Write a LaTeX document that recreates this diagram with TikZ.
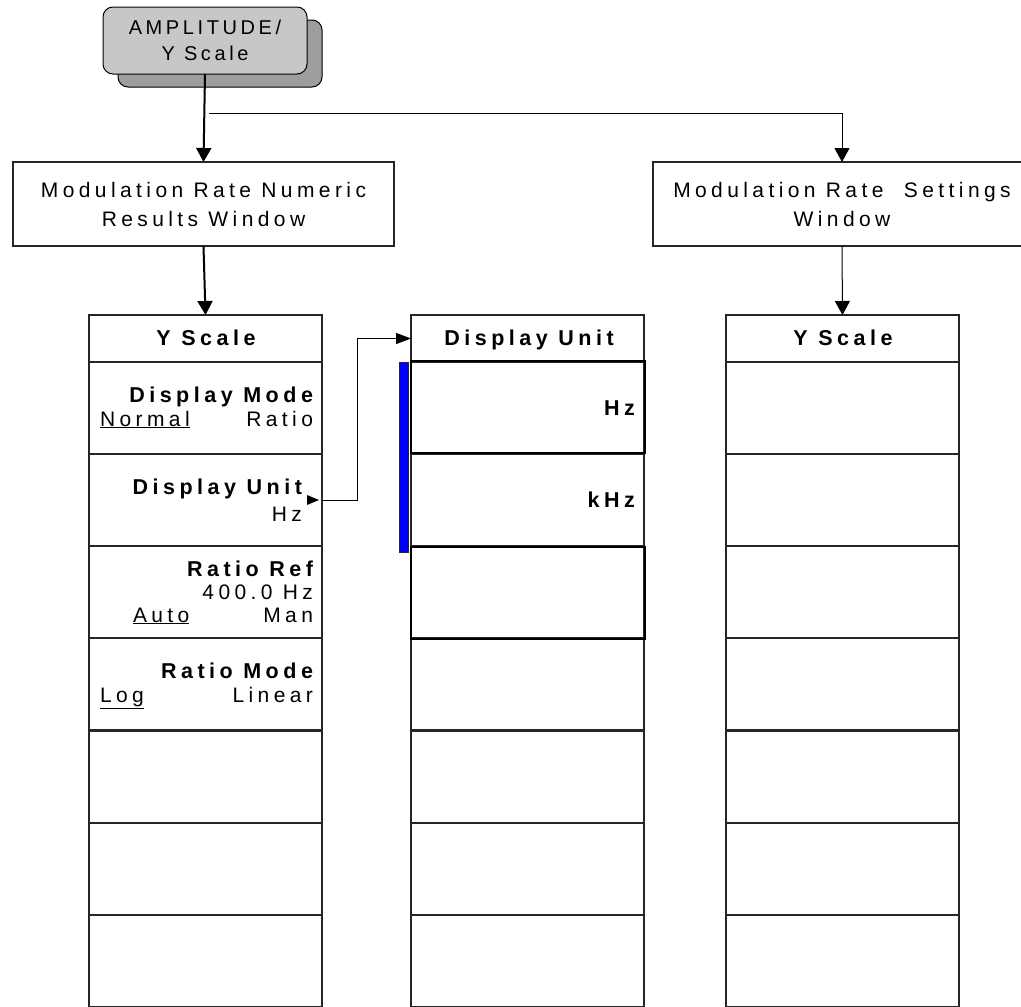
\documentclass[tikz,border=0pt]{standalone}
\usepackage{fontspec}
\newfontfamily\lsfont[LetterSpace=21]{Liberation Sans}
\newfontfamily\kfont[LetterSpace=18]{Liberation Sans}
\usetikzlibrary{arrows.meta,calc}
\begin{document}
\begin{tikzpicture}[x=1pt,y=-1pt,
  every node/.style={inner sep=0pt,outer sep=0pt},
  txt/.style={font=\lsfont\fontsize{21}{29}\selectfont},
  btxt/.style={font=\lsfont\fontsize{21.5}{29}\selectfont\bfseries},
  winbox/.style={draw=black!85,line width=1.1pt,anchor=north west,minimum height=84pt,align=center,txt},
  hdrbox/.style={draw=black!85,line width=1.1pt,anchor=north west,minimum width=233pt,minimum height=47pt},
  softkey/.style={draw=black!85,line width=1.1pt,anchor=north west,minimum width=233pt,minimum height=92pt},
  selkey/.style={draw=black,line width=2.4pt,anchor=north west,minimum width=234pt,minimum height=92pt},
  bigarrow/.style={line width=2pt,-{Triangle[length=14pt,width=15pt]}},
  thinarrow/.style={line width=1pt,-{Triangle[length=14pt,width=15pt]}},
  smallarrow/.style={line width=1pt,-{Triangle[length=15pt,width=11pt]}}
]
\useasboundingbox (0,0) rectangle (1021,1007);
\clip (0,0) rectangle (1021,1007);

% front-panel key with shadow
\draw[black,line width=1pt,fill=black!38,rounded corners=10pt] (118,20) rectangle (322,87);
\node[draw=black,line width=1pt,fill=black!22,rounded corners=10pt,anchor=north west,
      minimum width=204pt,minimum height=67pt,align=center,
      font=\kfont\fontsize{20}{26}\selectfont] (key) at (103,7) {AMPLITUDE/\\Y Scale};

% windows
\node[winbox,minimum width=381pt] (numeric) at (13,162) {Modulation Rate Numeric\\Results Window};
\node[winbox,minimum width=378pt] (settings) at (653,162) {Modulation Rate\ \ Settings\\Window};

% menu columns
\node[hdrbox] (L0) at (89,315) {};
\node[hdrbox] (M0) at (411,315) {};
\node[hdrbox] (R0) at (726,315) {};
\foreach \i/\y in {1/362,2/454,3/546,4/638,5/731,6/823,7/915}{
  \node[softkey] (L\i) at (89,\y) {};
  \node[softkey] (M\i) at (411,\y) {};
  \node[softkey] (R\i) at (726,\y) {};
}
\node[selkey] (M1s) at (411,361) {};
\node[selkey] (M3s) at (411,547) {};
\draw[black!85,line width=1pt,fill=blue] (399,362) rectangle (408,552);

% headers
\node[btxt,anchor=base] (L0t) at (206,345) {Y Scale};
\node[btxt,anchor=base] (M0t) at (529,345) {Display Unit};
\node[btxt,anchor=base] (R0t) at (843,345) {Y Scale};

% left column labels
\node[btxt,anchor=base east] (dm) at (313,402) {Display Mode};
\node[txt,anchor=base west] (dmn) at (100,426) {\underline{Normal}};
\node[txt,anchor=base east] (dmr) at (313,426) {Ratio};
\node[btxt,anchor=base east] (du) at (302,494) {Display Unit};
\node[txt,anchor=base east] (duh) at (302,521) {Hz};
\fill (307,495) -- (319,500) -- (307,505) -- cycle;
\node[btxt,anchor=base east] (rr) at (313,576) {Ratio Ref};
\node[txt,anchor=base east] (rrv) at (313,599) {400.0 Hz};
\node[txt,anchor=base west] (rra) at (133,622) {\underline{Auto}};
\node[txt,anchor=base east] (rrm) at (313,622) {Man};
\node[btxt,anchor=base east] (rm) at (313,678) {Ratio Mode};
\node[txt,anchor=base west] (rml) at (100,702) {\underline{Log}};
\node[txt,anchor=base east] (rmn) at (313,702) {Linear};

% middle column labels
\node[btxt,anchor=base east] (hz) at (635,415) {Hz};
\node[btxt,anchor=base east] (khz) at (635,507) {kHz};

% connectors
\draw[bigarrow] (key.south) -- (numeric.north);
\coordinate (br) at (209,113);
\draw[thinarrow] (br) -| (settings.north);
\draw[bigarrow] (numeric.south) -- (L0.north);
\draw[thinarrow] (settings.south) -- (R0.north);
\coordinate (duo) at (322,500);
\draw[smallarrow] (duo) -- (357,500) |- (M0.west);
\end{tikzpicture}
\end{document}
